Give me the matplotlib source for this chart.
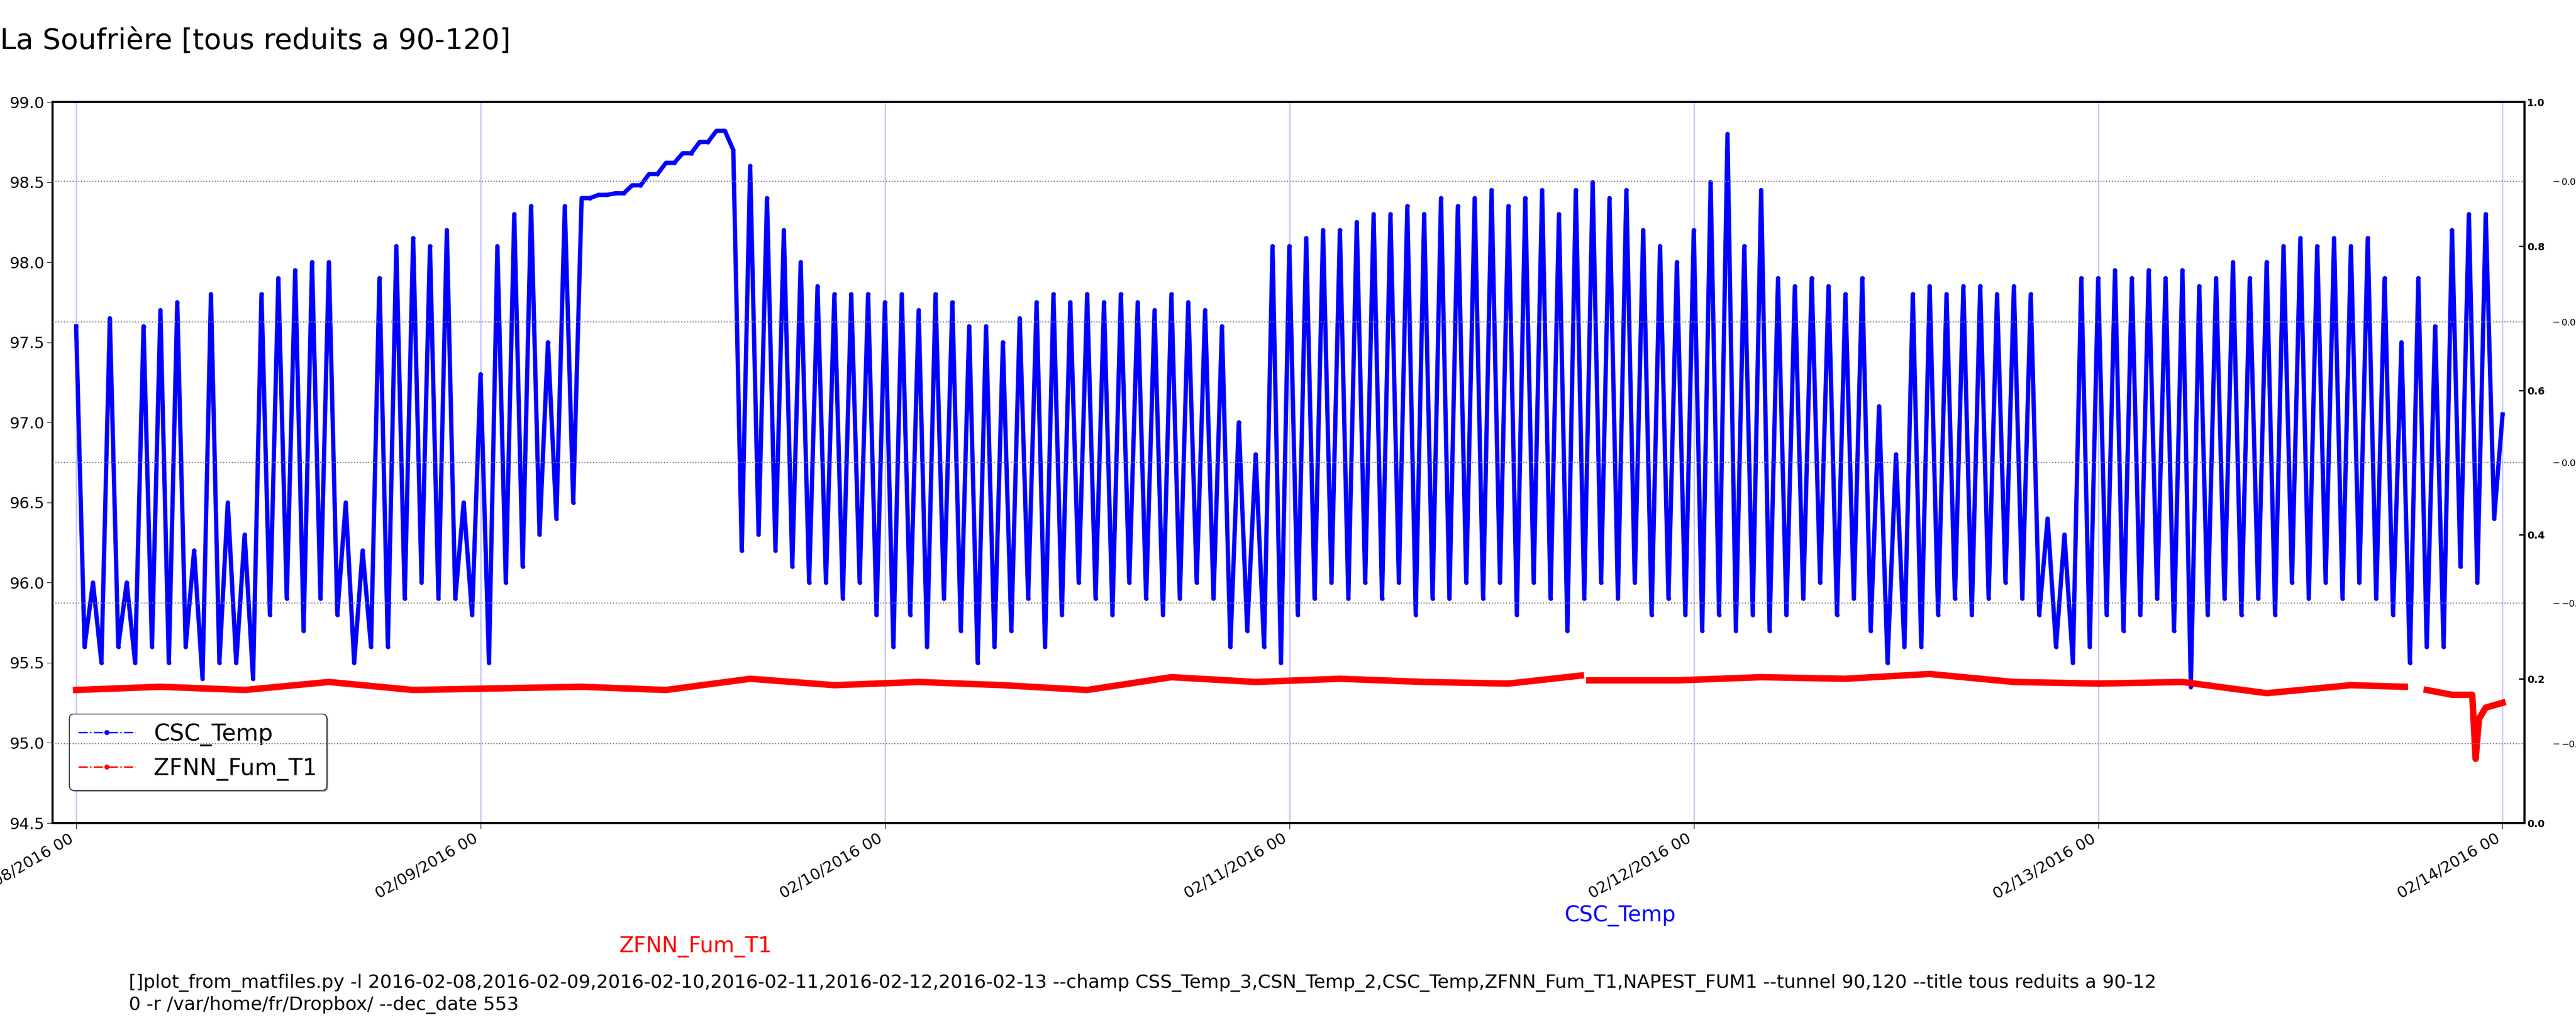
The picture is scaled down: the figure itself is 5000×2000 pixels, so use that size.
import numpy as np
import pandas as pd
import matplotlib.pyplot as plt
import matplotlib.dates as mdates
from matplotlib.lines import Line2D

# CSC_Temp: one peak and one trough per hour
csc_peak = [97.6, 96.0, 97.65, 96.0, 97.6, 97.7, 97.75, 96.2, 97.8, 96.5,
            96.3, 97.8, 97.9, 97.95, 98.0, 98.0, 96.5, 96.2, 97.9, 98.1,
            98.15, 98.1, 98.2, 96.5, 97.3, 98.1, 98.3, 98.35, 97.5, 98.35,
            98.40, 98.42, 98.43, 98.48, 98.55, 98.62, 98.68, 98.75, 98.82,
            98.7, 98.6, 98.4, 98.2, 98.0, 97.85, 97.8, 97.8, 97.8, 97.75, 97.8,
            97.7, 97.8, 97.75, 97.6, 97.6, 97.5, 97.65, 97.75, 97.8, 97.75,
            97.8, 97.75, 97.8, 97.75, 97.7, 97.8, 97.75, 97.7, 97.6, 97.0,
            96.8, 98.1, 98.1, 98.15, 98.2, 98.2, 98.25, 98.3, 98.3, 98.35,
            98.3, 98.4, 98.35, 98.4, 98.45, 98.35, 98.4, 98.45, 98.3, 98.45,
            98.5, 98.4, 98.45, 98.2, 98.1, 98.0, 98.2, 98.5, 98.8, 98.1,
            98.45, 97.9, 97.85, 97.9, 97.85, 97.8, 97.9, 97.1, 96.8, 97.8,
            97.85, 97.8, 97.85, 97.85, 97.8, 97.85, 97.8, 96.4, 96.3, 97.9,
            97.9, 97.95, 97.9, 97.95, 97.9, 97.95, 97.85, 97.9, 98.0, 97.9,
            98.0, 98.1, 98.15, 98.1, 98.15, 98.1, 98.15, 97.9, 97.5, 97.9,
            97.6, 98.2, 98.3, 98.3]
csc_trough = [95.6, 95.5, 95.6, 95.5, 95.6, 95.5, 95.6, 95.4, 95.5, 95.5,
              95.4, 95.8, 95.9, 95.7, 95.9, 95.8, 95.5, 95.6, 95.6, 95.9,
              96.0, 95.9, 95.9, 95.8, 95.5, 96.0, 96.1, 96.3, 96.4, 96.5,
              98.40, 98.42, 98.43, 98.48, 98.55, 98.62, 98.68, 98.75, 98.82,
              96.2, 96.3, 96.2, 96.1, 96.0, 96.0, 95.9, 96.0, 95.8, 95.6, 95.8,
              95.6, 95.9, 95.7, 95.5, 95.6, 95.7, 95.9, 95.6, 95.8, 96.0,
              95.9, 95.8, 96.0, 95.9, 95.8, 95.9, 96.0, 95.9, 95.6, 95.7,
              95.6, 95.5, 95.8, 95.9, 96.0, 95.9, 96.0, 95.9, 96.0, 95.8,
              95.9, 95.9, 96.0, 95.9, 96.0, 95.8, 96.0, 95.9, 95.7, 95.9,
              96.0, 95.9, 96.0, 95.8, 95.9, 95.8, 95.7, 95.8, 95.7, 95.8,
              95.7, 95.8, 95.9, 96.0, 95.8, 95.9, 95.7, 95.5, 95.6, 95.6,
              95.8, 95.9, 95.8, 95.9, 96.0, 95.9, 95.8, 95.6, 95.5, 95.6,
              95.8, 95.7, 95.8, 95.9, 95.7, 95.35, 95.8, 95.9, 95.8, 95.9,
              95.8, 96.0, 95.9, 96.0, 95.9, 96.0, 95.9, 95.8, 95.5, 95.6,
              95.6, 96.1, 96.0, 96.4]
csc_last = 97.05

# ZFNN_Fum_T1 (hours from 2016-02-08 00, value); NaN = gap
zf_hours = [0, 5, 10, 15, 20, 25, 30, 35, 40, 45, 50, 55, 60, 65, 70, 75, 80,
            85, 89.3, 89.5, 89.8, 95, 100, 105, 110, 115, 120, 125, 130, 135,
            138.2, 138.5, 139.5, 141, 142.2, 142.4, 142.6, 143, 144]
zf_vals = [95.33, 95.35, 95.33, 95.38, 95.33, 95.34, 95.35, 95.33, 95.40,
           95.36, 95.38, 95.36, 95.33, 95.41, 95.38, 95.40, 95.38, 95.37,
           95.42, np.nan, 95.39, 95.39, 95.41, 95.40, 95.43, 95.38, 95.37,
           95.38, 95.31, 95.36, 95.35, np.nan, 95.33, 95.30, 95.30, 94.9,
           95.15, 95.22, 95.25]

start = pd.Timestamp("2016-02-08")
csc_t, csc_v = [], []
for i, (p, t) in enumerate(zip(csc_peak, csc_trough)):
    csc_t += [start + pd.Timedelta(hours=i), start + pd.Timedelta(hours=i + 0.5)]
    csc_v += [p, t]
csc_t.append(start + pd.Timedelta(hours=144))
csc_v.append(csc_last)
zf_t = [start + pd.Timedelta(hours=h) for h in zf_hours]

fig = plt.figure(figsize=(50, 20), dpi=100)
ax = fig.add_axes([0.0204, 0.201, 0.9596, 0.70])
ax.plot(csc_t, csc_v, '-', color='blue', lw=6, marker='.', ms=10)
ax.plot(zf_t, zf_vals, '-', color='red', lw=9)
ax.set_ylim(94.5, 99.0)
ax.set_xlim(start - pd.Timedelta(hours=1.4), start + pd.Timedelta(hours=145.3))
ax.xaxis.set_major_locator(mdates.DayLocator())
ax.xaxis.set_major_formatter(mdates.DateFormatter('%m/%d/%Y %H'))
ax.grid(True, axis='x', color='#c8c8ff', lw=2)
ax.tick_params(labelsize=22, length=8)
for lab in ax.get_xticklabels():
    lab.set_rotation(30)
    lab.set_ha('right')
for s in ax.spines.values():
    s.set_linewidth(3)

h1 = Line2D([], [], color='blue', ls='-.', marker='.', ms=12, lw=2)
h2 = Line2D([], [], color='red', ls='-.', marker='.', ms=12, lw=2)
ax.legend([h1, h2], ['CSC_Temp', 'ZFNN_Fum_T1'], loc='lower left',
          bbox_to_anchor=(0.002, 0.03), fontsize=32, fancybox=True, shadow=True,
          framealpha=1, edgecolor='black', handlelength=2.5)

ax2 = ax.twinx()
ax2.set_ylim(0, 1)
ax2.tick_params(labelsize=14, direction='in', length=8, width=2)
for lab in ax2.get_yticklabels():
    lab.set_fontweight('bold')

ax3 = ax.twinx()
ax3.set_ylim(-0.0513, 0.0513)
ax3.set_yticks([-0.04, -0.02, 0.0, 0.02, 0.04])
ax3.spines['right'].set_position(('outward', 40))
ax3.spines['right'].set_visible(False)
ax3.tick_params(labelsize=13, length=8)
ax3.grid(True, axis='y', color='gray', ls=':', lw=1.5)

fig.text(0.0, 0.96, 'La Soufrière [tous reduits a 90-120]', fontsize=40, va='center')
fig.text(0.629, 0.111, 'CSC_Temp', color='blue', fontsize=30, ha='center', va='center')
fig.text(0.270, 0.081, 'ZFNN_Fum_T1', color='red', fontsize=30, ha='center', va='center')
fig.text(0.050, 0.035,
         '[]plot_from_matfiles.py -l 2016-02-08,2016-02-09,2016-02-10,2016-02-11,2016-02-12,2016-02-13 '
         '--champ CSS_Temp_3,CSN_Temp_2,CSC_Temp,ZFNN_Fum_T1,NAPEST_FUM1 --tunnel 90,120 --title tous reduits a 90-12\n'
         '0 -r /var/home/fr/Dropbox/ --dec_date 553',
         fontsize=26, va='center', linespacing=1.3)

fig.savefig('out.png', dpi=100)
